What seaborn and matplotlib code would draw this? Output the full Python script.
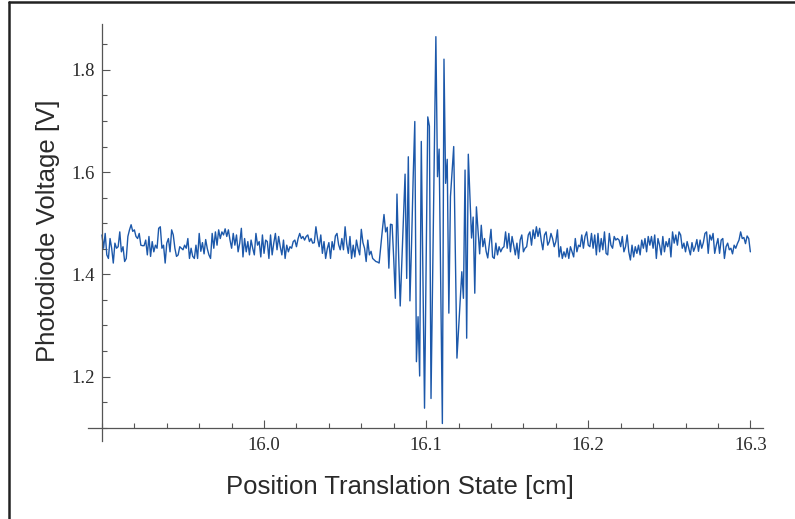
import numpy as np
import pandas as pd
import matplotlib
matplotlib.use("Agg")
import matplotlib.pyplot as plt
from matplotlib.ticker import MultipleLocator
from matplotlib.lines import Line2D
import seaborn as sns

# ---------------- data ----------------
position_start = 15.90
position_end = 16.30

voltage_left = [
    1.477, 1.451, 1.480, 1.438, 1.431, 1.470, 1.451, 1.422, 1.461, 1.451,
    1.454, 1.483, 1.444, 1.454, 1.425, 1.431, 1.474, 1.487, 1.497, 1.484,
    1.487, 1.474, 1.470, 1.480, 1.457, 1.456, 1.456, 1.467, 1.438, 1.474,
    1.435, 1.464, 1.444, 1.457, 1.451, 1.490, 1.493, 1.451, 1.457, 1.422,
    1.461, 1.470, 1.444, 1.487, 1.477, 1.451, 1.435, 1.438, 1.454, 1.451,
    1.448, 1.457, 1.451, 1.470, 1.431, 1.451, 1.435, 1.431, 1.457, 1.431,
    1.480, 1.445, 1.462, 1.440, 1.468, 1.450,
]
voltage_left_mid = [
    1.438, 1.431, 1.480, 1.451, 1.483, 1.457, 1.487, 1.470, 1.483, 1.477,
    1.489, 1.474, 1.487, 1.467, 1.451, 1.480, 1.457, 1.477, 1.444, 1.461,
    1.490, 1.434, 1.470, 1.444, 1.464, 1.438, 1.467, 1.451, 1.438, 1.480,
    1.457, 1.464, 1.434, 1.477, 1.441, 1.467, 1.464, 1.431, 1.477, 1.438,
    1.461, 1.480, 1.448, 1.474, 1.454, 1.438, 1.467, 1.431, 1.457, 1.444,
    1.454, 1.451, 1.464, 1.467, 1.454, 1.470, 1.480, 1.470, 1.474, 1.467,
    1.474, 1.477, 1.464, 1.470, 1.461,
]
voltage_pre_burst = [
    1.462, 1.493, 1.470, 1.454, 1.477, 1.441, 1.464, 1.431, 1.450, 1.462,
    1.431, 1.464, 1.448, 1.475, 1.480, 1.458, 1.448, 1.470, 1.448, 1.493,
    1.460, 1.441, 1.474, 1.431, 1.457, 1.434, 1.467, 1.450, 1.438, 1.488,
    1.462, 1.451, 1.425, 1.467, 1.438, 1.445, 1.431, 1.428,
]
voltage_burst = [
    1.425, 1.424, 1.422, 1.455, 1.487, 1.517, 1.483, 1.492, 1.412, 1.498,
    1.497, 1.430, 1.353, 1.557, 1.440, 1.338, 1.424, 1.510, 1.596, 1.392,
    1.630, 1.348, 1.460, 1.590, 1.699, 1.229, 1.317, 1.201, 1.660, 1.400,
    1.138, 1.420, 1.708, 1.690, 1.157, 1.393, 1.629, 1.865, 1.591, 1.645,
    1.376, 1.108, 1.821, 1.578, 1.625, 1.324, 1.552, 1.600, 1.650, 1.443,
    1.236, 1.292, 1.348, 1.405, 1.353, 1.604, 1.275, 1.635, 1.553, 1.471,
    1.512, 1.363, 1.532, 1.486, 1.440, 1.496, 1.454, 1.470, 1.445, 1.432,
    1.460, 1.488,
]
voltage_post_burst = [
    1.434, 1.431, 1.461, 1.438, 1.454, 1.444, 1.451, 1.454, 1.483, 1.451,
    1.480, 1.444, 1.474, 1.457, 1.438, 1.461, 1.431, 1.467, 1.477, 1.444,
    1.451, 1.454, 1.477, 1.483, 1.457, 1.487, 1.470, 1.493, 1.474, 1.490,
    1.466, 1.448,
    1.477, 1.483, 1.457, 1.464, 1.480, 1.470, 1.454, 1.464, 1.487, 1.434,
    1.454, 1.431, 1.444, 1.434, 1.451, 1.431, 1.454, 1.444, 1.434, 1.470,
    1.444, 1.457, 1.454, 1.477, 1.451, 1.474, 1.483, 1.457,
]
voltage_right_mid = [
    1.454, 1.480, 1.451, 1.477, 1.438, 1.480, 1.444, 1.470, 1.448, 1.483,
    1.441, 1.438, 1.480, 1.457, 1.451, 1.474, 1.467, 1.470, 1.467, 1.454,
    1.474, 1.444, 1.454, 1.477, 1.444, 1.428, 1.457, 1.434, 1.454, 1.441,
    1.457, 1.438, 1.467, 1.451, 1.470, 1.444, 1.474, 1.457, 1.474, 1.451,
    1.477, 1.431, 1.470, 1.457, 1.438, 1.474, 1.444, 1.464, 1.454, 1.470,
    1.434, 1.483, 1.461, 1.477, 1.457, 1.483, 1.477, 1.451, 1.461, 1.444,
    1.464, 1.451, 1.438, 1.462, 1.445,
]
voltage_right = [
    1.454, 1.468, 1.445, 1.467, 1.451, 1.462, 1.480, 1.483, 1.441, 1.477,
    1.467, 1.480, 1.441, 1.457, 1.470, 1.441, 1.467, 1.470, 1.431, 1.454,
    1.461, 1.448, 1.451, 1.440, 1.457, 1.451, 1.460, 1.467, 1.483, 1.470,
    1.472, 1.460, 1.475, 1.470, 1.444,
]

x_ticks = [16.0, 16.1, 16.2, 16.3]
x_tick_labels = ["16.0", "16.1", "16.2", "16.3"]
y_ticks = [1.2, 1.4, 1.6, 1.8]
y_tick_labels = ["1.2", "1.4", "1.6", "1.8"]

voltage = (voltage_left + voltage_left_mid + voltage_pre_burst + voltage_burst
           + voltage_post_burst + voltage_right_mid + voltage_right)
position = np.linspace(position_start, position_end, len(voltage))
df = pd.DataFrame({"position": position, "voltage": voltage})

# ---------------- style ----------------
sns.set_style("ticks")
plt.rcParams["font.family"] = ["Liberation Sans", "DejaVu Sans"]

LINE = "#1c58aa"
AXIS = "#555555"
TEXT = "#2a2a2a"

W, H = 795, 519
fig = plt.figure(figsize=(W / 100, H / 100), dpi=100)
ax = fig.add_axes([88 / W, 78 / H, 675 / W, 417 / H])

sns.lineplot(data=df, x="position", y="voltage", ax=ax, color=LINE,
             linewidth=1.0, estimator=None, sort=False)

ax.set_xlim(15.8914, 16.3078)
ax.set_ylim(1.0738, 1.8898)

for s in ["top", "right"]:
    ax.spines[s].set_visible(False)
ax.spines["left"].set_position(("data", 15.9))
ax.spines["bottom"].set_position(("data", 1.1))
for s in ["left", "bottom"]:
    ax.spines[s].set_color(AXIS)
    ax.spines[s].set_linewidth(0.9)

ax.set_xticks(x_ticks, labels=x_tick_labels)
ax.set_yticks(y_ticks, labels=y_tick_labels)
ax.xaxis.set_minor_locator(MultipleLocator(0.02))
ax.yaxis.set_minor_locator(MultipleLocator(0.05))
ax.tick_params(which="both", direction="in", color=AXIS, width=0.8,
               bottom=True, left=True, top=False, right=False)
ax.tick_params(which="major", length=6, labelsize=13.5, labelcolor=TEXT)
ax.tick_params(which="minor", length=3.6)
ax.tick_params(axis="x", which="major", pad=6.5)
ax.tick_params(axis="y", which="major", pad=5)
for lab in ax.get_xticklabels() + ax.get_yticklabels():
    lab.set_family(["Liberation Serif", "DejaVu Serif"])

ax.set_xlabel("Position Translation State [cm]", fontsize=18.5, color=TEXT)
ax.xaxis.set_label_coords((400 - 88) / 675, -0.110)
ax.xaxis.label.set_va("center")
ax.set_ylabel("Photodiode Voltage [V]", fontsize=18.5, color=TEXT)
ax.yaxis.set_label_coords((48 - 88) / 675, 0.504)
ax.yaxis.label.set_va("center")

# outer frame (left and top edges visible in the reference)
fig.add_artist(Line2D([8.5 / W, 8.5 / W], [0, 1 - 1.5 / H],
                      transform=fig.transFigure, color="#222222", lw=1.8))
fig.add_artist(Line2D([8.5 / W, 1], [1 - 2 / H, 1 - 2 / H],
                      transform=fig.transFigure, color="#222222", lw=1.8))

fig.savefig("out.png", dpi=100)
